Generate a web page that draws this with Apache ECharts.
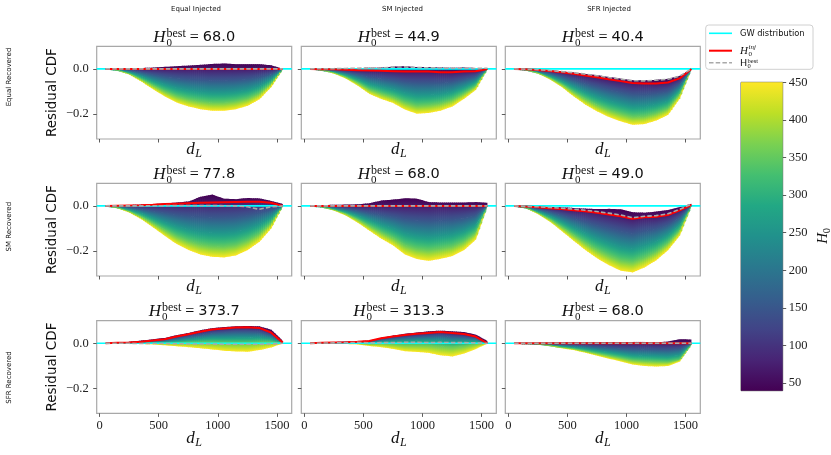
<!DOCTYPE html>
<html>
<head>
<meta charset="utf-8">
<script src="https://cdn.jsdelivr.net/npm/echarts@6/dist/echarts.min.js"></script>
<style>
  html, body { margin: 0; padding: 0; background: #fff; }
  #chart { width: 831px; height: 455px; }
</style>
</head>
<body>
<div id="chart"></div>
<script>
// luminosity distance grid shared by every curve
const dL = [50, 150, 250, 350, 450, 550, 650, 750, 850, 950, 1050, 1150, 1250, 1350, 1450, 1550];
const xTicks = [0, 500, 1000, 1500];
const yTicks = [-0.2, 0.0];
const cbTicks = [50, 100, 150, 200, 250, 300, 350, 400, 450];
const cbMin = 40, cbMax = 450;
// H0 value of each curve (top curve first)
const h0Levels = [40, 68, 150, 250, 350, 450];
const colNames = ['Equal Injected', 'SM Injected', 'SFR Injected'];
const rowNames = ['Equal Recovered', 'SM Recovered', 'SFR Recovered'];
const bestValues = ['68.0', '44.9', '40.4', '77.8', '68.0', '49.0', '373.7', '313.3', '68.0'];

// row 1: Equal recovered
const p11_h40  = [0, 0.001, 0.002, 0.004, 0.006, 0.009, 0.012, 0.015, 0.018, 0.022, 0.024, 0.021, 0.021, 0.021, 0.016, 0];
const p11_h68  = [0, 0, 0, 0, 0, 0, 0, 0, 0, 0, 0, 0, 0, 0, 0, 0];
const p11_h150 = [0, -0.002, -0.007, -0.015, -0.024, -0.033, -0.04, -0.045, -0.048, -0.05, -0.05, -0.048, -0.044, -0.036, -0.022, 0];
const p11_h250 = [0, -0.004, -0.014, -0.031, -0.05, -0.067, -0.082, -0.091, -0.098, -0.102, -0.102, -0.098, -0.09, -0.074, -0.044, 0];
const p11_h350 = [0, -0.006, -0.021, -0.045, -0.072, -0.098, -0.119, -0.133, -0.142, -0.148, -0.148, -0.142, -0.13, -0.107, -0.064, 0];
const p11_h450 = [0, -0.007, -0.026, -0.056, -0.09, -0.122, -0.149, -0.166, -0.178, -0.185, -0.185, -0.178, -0.163, -0.134, -0.08, 0];
const p11_best = p11_h68;

const p12_h40  = [0, 0.001, 0.002, 0.003, 0.004, 0.005, 0.006, 0.01, 0.012, 0.008, 0.008, 0.006, 0.005, 0.006, 0.004, 0.004];
const p12_h68  = [0, -0.001, -0.002, -0.004, -0.006, -0.007, -0.008, -0.01, -0.012, -0.011, -0.012, -0.015, -0.015, -0.012, -0.01, 0];
const p12_h150 = [0, -0.003, -0.007, -0.015, -0.024, -0.035, -0.042, -0.048, -0.057, -0.061, -0.061, -0.061, -0.056, -0.044, -0.032, 0];
const p12_h250 = [0, -0.004, -0.012, -0.025, -0.043, -0.064, -0.077, -0.088, -0.104, -0.114, -0.113, -0.109, -0.098, -0.078, -0.055, 0];
const p12_h350 = [0, -0.006, -0.017, -0.035, -0.06, -0.09, -0.108, -0.123, -0.146, -0.161, -0.158, -0.151, -0.136, -0.108, -0.076, 0];
const p12_h450 = [0, -0.007, -0.021, -0.043, -0.074, -0.111, -0.133, -0.151, -0.18, -0.198, -0.195, -0.185, -0.166, -0.132, -0.092, 0];
const p12_best = [0, 0.001, 0.001, 0.002, 0.003, 0.004, 0.004, 0.008, 0.009, 0.006, 0.005, 0.004, 0.003, 0.003, 0.002, 0.003];

const p13_h40  = [0, -0.001, -0.003, -0.006, -0.011, -0.016, -0.022, -0.028, -0.036, -0.043, -0.05, -0.051, -0.048, -0.044, -0.03, 0];
const p13_h68  = [0, -0.002, -0.005, -0.009, -0.015, -0.021, -0.029, -0.037, -0.046, -0.054, -0.062, -0.064, -0.064, -0.06, -0.042, 0];
const p13_h150 = [0, -0.003, -0.009, -0.019, -0.033, -0.048, -0.064, -0.078, -0.091, -0.102, -0.112, -0.113, -0.108, -0.099, -0.066, 0];
const p13_h250 = [0, -0.004, -0.014, -0.03, -0.051, -0.076, -0.1, -0.12, -0.138, -0.152, -0.164, -0.163, -0.154, -0.139, -0.09, 0];
const p13_h350 = [0, -0.005, -0.018, -0.039, -0.067, -0.101, -0.132, -0.158, -0.18, -0.196, -0.21, -0.208, -0.195, -0.174, -0.112, 0];
const p13_h450 = [0, -0.006, -0.021, -0.047, -0.08, -0.121, -0.158, -0.188, -0.213, -0.232, -0.247, -0.244, -0.228, -0.203, -0.13, 0];
const p13_best = [0, -0.001, -0.003, -0.007, -0.012, -0.017, -0.023, -0.03, -0.038, -0.045, -0.052, -0.053, -0.05, -0.046, -0.032, 0];

// row 2: SM recovered
const p21_h40  = [0, 0.002, 0.004, 0.006, 0.008, 0.011, 0.015, 0.02, 0.04, 0.05, 0.032, 0.03, 0.035, 0.033, 0.022, 0.008];
const p21_h68  = [0, 0.001, 0.002, 0.003, 0.005, 0.008, 0.01, 0.012, 0.014, 0.015, 0.016, 0.017, 0.018, 0.018, 0.014, 0];
const p21_h150 = [0, -0.002, -0.007, -0.014, -0.022, -0.03, -0.038, -0.044, -0.048, -0.05, -0.05, -0.047, -0.04, -0.03, -0.017, 0];
const p21_h250 = [0, -0.005, -0.016, -0.031, -0.05, -0.07, -0.088, -0.102, -0.112, -0.117, -0.118, -0.113, -0.099, -0.079, -0.048, 0];
const p21_h350 = [0, -0.008, -0.024, -0.047, -0.075, -0.105, -0.133, -0.154, -0.169, -0.177, -0.179, -0.172, -0.152, -0.123, -0.076, 0];
const p21_h450 = [0, -0.01, -0.03, -0.059, -0.095, -0.133, -0.169, -0.195, -0.215, -0.225, -0.228, -0.219, -0.195, -0.158, -0.099, 0];
const p21_best = [0, 0, 0, 0, 0.001, 0.001, 0.002, 0.002, 0.002, 0.002, 0.001, 0, -0.004, -0.015, -0.004, 0];

const p22_h40  = [0, 0.004, 0.005, 0.006, 0.007, 0.012, 0.024, 0.028, 0.034, 0.032, 0.017, 0.015, 0.015, 0.015, 0.017, 0.014];
const p22_h68  = [0, 0, 0, 0, 0, 0, 0, 0, 0, 0, 0, 0, 0, 0, 0, 0];
const p22_h150 = [0, -0.002, -0.006, -0.012, -0.02, -0.03, -0.039, -0.047, -0.058, -0.063, -0.066, -0.063, -0.06, -0.053, -0.04, 0];
const p22_h250 = [0, -0.003, -0.012, -0.024, -0.041, -0.06, -0.08, -0.096, -0.118, -0.129, -0.134, -0.129, -0.122, -0.107, -0.081, 0];
const p22_h350 = [0, -0.005, -0.017, -0.034, -0.059, -0.088, -0.116, -0.14, -0.172, -0.188, -0.194, -0.187, -0.178, -0.156, -0.118, 0];
const p22_h450 = [0, -0.006, -0.021, -0.043, -0.074, -0.11, -0.145, -0.175, -0.215, -0.235, -0.243, -0.234, -0.222, -0.195, -0.148, 0];
const p22_best = p22_h68;

const p23_h40  = [0, -0.001, -0.002, -0.004, -0.006, -0.009, -0.012, -0.014, -0.013, -0.015, -0.028, -0.03, -0.025, -0.018, -0.005, 0.01];
const p23_h68  = [0, -0.003, -0.006, -0.01, -0.014, -0.019, -0.024, -0.03, -0.038, -0.046, -0.057, -0.05, -0.048, -0.04, -0.02, 0.004];
const p23_h150 = [0, -0.005, -0.014, -0.026, -0.04, -0.055, -0.07, -0.085, -0.098, -0.111, -0.121, -0.11, -0.1, -0.082, -0.05, 0.003];
const p23_h250 = [0, -0.007, -0.023, -0.043, -0.067, -0.093, -0.118, -0.141, -0.161, -0.179, -0.187, -0.172, -0.154, -0.125, -0.08, 0.002];
const p23_h350 = [0, -0.009, -0.031, -0.058, -0.092, -0.127, -0.161, -0.192, -0.217, -0.239, -0.247, -0.228, -0.202, -0.164, -0.108, 0.001];
const p23_h450 = [0, -0.01, -0.037, -0.07, -0.111, -0.154, -0.195, -0.232, -0.262, -0.287, -0.294, -0.272, -0.24, -0.195, -0.13, 0];
const p23_best = [0, -0.002, -0.004, -0.007, -0.01, -0.014, -0.019, -0.025, -0.032, -0.04, -0.052, -0.046, -0.043, -0.035, -0.015, 0.008];

// row 3: SFR recovered
const p31_h40  = [0, 0.003, 0.007, 0.012, 0.018, 0.024, 0.036, 0.046, 0.058, 0.067, 0.072, 0.075, 0.077, 0.075, 0.06, 0.01];
const p31_h68  = [0, 0.002, 0.004, 0.007, 0.012, 0.018, 0.03, 0.04, 0.051, 0.061, 0.066, 0.07, 0.071, 0.068, 0.048, 0.003];
const p31_h150 = [0, 0.0015, 0.003, 0.005, 0.009, 0.013, 0.022, 0.03, 0.038, 0.046, 0.049, 0.052, 0.052, 0.05, 0.037, 0.003];
const p31_h250 = [0, 0.001, 0.002, 0.003, 0.005, 0.007, 0.012, 0.017, 0.022, 0.026, 0.026, 0.027, 0.027, 0.028, 0.022, 0.002];
const p31_h350 = [0, 0, 0.001, 0.001, 0.002, 0.001, 0.002, 0.004, 0.005, 0.005, 0.003, 0.002, 0.002, 0.005, 0.006, 0.001];
const p31_h450 = [0, -0.001, -0.002, -0.003, -0.005, -0.009, -0.013, -0.017, -0.022, -0.027, -0.033, -0.036, -0.037, -0.03, -0.018, 0];
const p31_best = [0, 0, 0, -0.001, -0.001, -0.001, -0.002, -0.003, -0.003, -0.003, -0.004, -0.004, -0.004, -0.004, -0.003, 0];

const p32_h40  = [0, 0.003, 0.006, 0.008, 0.01, 0.012, 0.025, 0.034, 0.042, 0.048, 0.053, 0.056, 0.053, 0.05, 0.038, 0.01];
const p32_h68  = [0, 0.002, 0.004, 0.005, 0.007, 0.01, 0.022, 0.03, 0.037, 0.042, 0.046, 0.05, 0.046, 0.041, 0.03, 0];
const p32_h150 = [0, 0.0015, 0.003, 0.004, 0.005, 0.007, 0.016, 0.022, 0.026, 0.03, 0.033, 0.035, 0.03, 0.028, 0.022, 0];
const p32_h250 = [0, 0.001, 0.002, 0.002, 0.003, 0.002, 0.008, 0.011, 0.012, 0.014, 0.015, 0.014, 0.01, 0.011, 0.011, 0];
const p32_h350 = [0, 0, 0, 0, 0, -0.003, -0.001, -0.003, -0.006, -0.006, -0.007, -0.012, -0.016, -0.011, -0.003, 0];
const p32_h450 = [0, -0.001, -0.002, -0.003, -0.005, -0.012, -0.017, -0.025, -0.035, -0.038, -0.042, -0.053, -0.058, -0.045, -0.025, 0];
const p32_best = [0, 0.001, 0.002, 0.003, 0.004, 0.002, 0.003, 0.003, 0.004, 0.004, 0.003, 0.004, 0.003, 0.003, 0.002, 0];

const p33_h40  = [0, 0.001, 0.002, 0.003, 0.004, 0.005, 0.004, 0.005, 0.006, 0.005, 0.006, 0.006, 0.004, 0.008, 0.018, 0.017];
const p33_h68  = [0, 0, 0, 0, 0, 0, 0, 0, 0, 0, 0, 0, 0, 0, 0, 0];
const p33_h150 = [0, 0, -0.001, -0.003, -0.006, -0.008, -0.011, -0.015, -0.018, -0.022, -0.025, -0.026, -0.027, -0.028, -0.024, -0.001];
const p33_h250 = [0, -0.001, -0.002, -0.007, -0.012, -0.017, -0.023, -0.03, -0.037, -0.044, -0.051, -0.053, -0.055, -0.057, -0.05, -0.003];
const p33_h350 = [0, -0.001, -0.003, -0.01, -0.018, -0.024, -0.034, -0.044, -0.054, -0.064, -0.074, -0.078, -0.08, -0.082, -0.072, -0.004];
const p33_h450 = [0, -0.001, -0.004, -0.012, -0.022, -0.03, -0.042, -0.055, -0.068, -0.08, -0.094, -0.1, -0.103, -0.1, -0.08, -0.005];
const p33_best = p33_h68;

const panels = [
  { curves: [p11_h40, p11_h68, p11_h150, p11_h250, p11_h350, p11_h450], best: p11_best },
  { curves: [p12_h40, p12_h68, p12_h150, p12_h250, p12_h350, p12_h450], best: p12_best },
  { curves: [p13_h40, p13_h68, p13_h150, p13_h250, p13_h350, p13_h450], best: p13_best },
  { curves: [p21_h40, p21_h68, p21_h150, p21_h250, p21_h350, p21_h450], best: p21_best },
  { curves: [p22_h40, p22_h68, p22_h150, p22_h250, p22_h350, p22_h450], best: p22_best },
  { curves: [p23_h40, p23_h68, p23_h150, p23_h250, p23_h350, p23_h450], best: p23_best },
  { curves: [p31_h40, p31_h68, p31_h150, p31_h250, p31_h350, p31_h450], best: p31_best },
  { curves: [p32_h40, p32_h68, p32_h150, p32_h250, p32_h350, p32_h450], best: p32_best },
  { curves: [p33_h40, p33_h68, p33_h150, p33_h250, p33_h350, p33_h450], best: p33_best }
];

// layout
const colLeft = [96.7, 301.3, 505.3];
const rowTop = [46.3, 183.3, 320.7];
const panelW = 195, panelH = 92.7;
const SERIF = 'Liberation Serif', SANS = 'DejaVu Sans';

// viridis colormap
const viridisStops = ['#440154', '#482475', '#414487', '#355f8d', '#2a788e', '#21918c',
  '#22a884', '#44bf70', '#7ad151', '#bddf26', '#fde725'];
function hexRgb(h) { return [1, 3, 5].map(i => parseInt(h.substr(i, 2), 16)); }
function viridis(t) {
  t = Math.max(0, Math.min(1, t));
  const s = t * 10, i = Math.min(9, Math.floor(s)), f = s - i;
  const a = hexRgb(viridisStops[i]), b = hexRgb(viridisStops[i + 1]);
  return 'rgb(' + a.map((v, m) => Math.round(v + (b[m] - v) * f)).join(',') + ')';
}
function h0Color(h) { return viridis((h - cbMin) / (cbMax - cbMin)); }

function lerpPt(a, b, t) { return [a[0] + (b[0] - a[0]) * t, a[1] + (b[1] - a[1]) * t]; }

// fill between neighbouring curves; each straight step is cut into thin
// strips so the colour ramp follows the local band height. Strips overlap
// a little to the right and downwards so no seams show.
const STRIPS = 6, OV = 0.7;
function bandRenderer(curves) {
  return function (params, api) {
    const k = api.value(0), j = api.value(1);
    const up = curves[k], lo = curves[k + 1];
    const p1 = api.coord([dL[j], up[j]]), p2 = api.coord([dL[j + 1], up[j + 1]]);
    const p4 = api.coord([dL[j], lo[j]]), p3 = api.coord([dL[j + 1], lo[j + 1]]);
    const h0 = h0Levels[k], h1 = h0Levels[k + 1];
    const stops = [0, 0.25, 0.5, 0.75, 1].map(s => ({ offset: s, color: h0Color(h0 + s * (h1 - h0)) }));
    const lastSeg = j === dL.length - 2;
    const lastBand = k === h0Levels.length - 2;
    const children = [];
    for (let s = 0; s < STRIPS; s++) {
      const t0 = s / STRIPS, t1 = (s + 1) / STRIPS;
      const a = lerpPt(p1, p2, t0), b = lerpPt(p1, p2, t1);
      const c = lerpPt(p4, p3, t1), d = lerpPt(p4, p3, t0);
      const yTop = (a[1] + b[1]) / 2, yBot = (c[1] + d[1]) / 2;
      const dx = (lastSeg && s === STRIPS - 1) ? 0 : OV;
      const dy = lastBand ? 0 : OV;
      const pts = [a, [b[0] + dx, b[1]], [c[0] + dx, c[1] + dy], [d[0], d[1] + dy]];
      let fill;
      if (yBot - yTop < 0.8) {
        fill = h0Color((h0 + h1) / 2);
      } else {
        fill = new echarts.graphic.LinearGradient(0, yTop, 0, yBot, stops, true);
      }
      children.push({ type: 'polygon', shape: { points: pts }, style: { fill: fill } });
    }
    return { type: 'group', children: children };
  };
}

const bandItems = [];
for (let k = 0; k < h0Levels.length - 1; k++) {
  for (let j = 0; j < dL.length - 1; j++) bandItems.push([k, j]);
}

const grids = [], xAxes = [], yAxes = [], series = [];
const tickStyle = { color: '#333', width: 0.8 };
const labelFont = { fontFamily: SERIF, fontSize: 12.5, color: '#222' };

panels.forEach((p, i) => {
  const r = Math.floor(i / 3), c = i % 3;
  grids.push({
    left: colLeft[c], top: rowTop[r], width: panelW, height: panelH,
    show: true, borderColor: '#a8a8a8', borderWidth: 1.2, backgroundColor: 'transparent'
  });
  xAxes.push({
    type: 'value', gridIndex: i, min: -25, max: 1625,
    axisLine: { show: false, onZero: false },
    splitLine: { show: false },
    axisTick: { show: true, customValues: xTicks, length: 3.5, lineStyle: tickStyle },
    axisLabel: Object.assign({ show: r === 2, customValues: xTicks, margin: 6, formatter: v => String(v) }, labelFont)
  });
  yAxes.push({
    type: 'value', gridIndex: i, min: -0.31, max: 0.1,
    axisLine: { show: false, onZero: false },
    splitLine: { show: false },
    axisTick: { show: true, customValues: yTicks, length: 3.5, lineStyle: tickStyle },
    axisLabel: Object.assign({
      show: c === 0, customValues: yTicks, margin: 8,
      formatter: v => v.toFixed(1).replace('-', '\u2212')
    }, labelFont)
  });
  series.push({
    type: 'custom', xAxisIndex: i, yAxisIndex: i, z: 1, silent: true,
    data: bandItems, renderItem: bandRenderer(p.curves)
  });
  series.push({
    type: 'line', xAxisIndex: i, yAxisIndex: i, z: 3, silent: true, symbol: 'none',
    data: [[-25, 0], [1625, 0]], lineStyle: { color: '#00ffff', width: 1.6 }
  });
  series.push({
    type: 'line', xAxisIndex: i, yAxisIndex: i, z: 4, silent: true, symbol: 'none',
    data: dL.map((d, j) => [d, p.curves[1][j]]), lineStyle: { color: '#ff0000', width: 2 }
  });
  series.push({
    type: 'line', xAxisIndex: i, yAxisIndex: i, z: 5, silent: true, symbol: 'none',
    data: dL.map((d, j) => [d, p.best[j]]), lineStyle: { color: '#a9a9a9', width: 1.6, type: [4.5, 2.2] }
  });
});

// colorbar
const cbIdx = panels.length;
grids.push({ left: 741, top: 82.3, width: 41.7, height: 308.4, show: true, borderColor: '#333', borderWidth: 0.8 });
xAxes.push({ type: 'value', gridIndex: cbIdx, min: 0, max: 1, show: false });
yAxes.push({
  type: 'value', gridIndex: cbIdx, min: cbMin, max: cbMax, position: 'right',
  axisLine: { show: false, onZero: false }, splitLine: { show: false },
  axisTick: { show: true, customValues: cbTicks, length: 3.5, lineStyle: tickStyle },
  axisLabel: Object.assign({ customValues: cbTicks, margin: 6 }, labelFont)
});
series.push({
  type: 'custom', xAxisIndex: cbIdx, yAxisIndex: cbIdx, silent: true, data: [[0]],
  renderItem: function (params, api) {
    const a = api.coord([0, cbMin]), b = api.coord([1, cbMax]);
    const stops = viridisStops.map((col, n) => ({ offset: n / 10, color: col }));
    return {
      type: 'rect',
      shape: { x: a[0], y: b[1], width: b[0] - a[0], height: a[1] - b[1] },
      style: { fill: new echarts.graphic.LinearGradient(0, 1, 0, 0, stops) }
    };
  }
});

// text helpers
const mctx = document.createElement('canvas').getContext('2d');
function textW(str, size, family, style) {
  mctx.font = (style || 'normal') + ' ' + size + 'px "' + family + '"';
  return mctx.measureText(str).width;
}
function txt(x, y, str, size, family, style, align) {
  return {
    type: 'text', x: x, y: y, silent: true,
    style: {
      text: str, fontSize: size, fontFamily: family, fontStyle: style || 'normal',
      fill: '#111', align: align || 'left', verticalAlign: 'middle'
    }
  };
}

const graphics = [];

function h0Title(cx, top, val) {
  const wH = textW('H', 17, SERIF, 'italic');
  const wS = Math.max(textW('best', 12, SERIF), textW('0', 11, SERIF));
  const wE = textW('=', 16, SERIF);
  const wN = textW(val, 14.5, SANS);
  const total = wH + 1 + wS + 4 + wE + 4 + wN;
  let x = cx - total / 2;
  const cy = top - 9;
  graphics.push(txt(x, cy, 'H', 17, SERIF, 'italic')); x += wH + 1;
  graphics.push(txt(x, cy - 3.5, 'best', 12, SERIF));
  graphics.push(txt(x, cy + 5.5, '0', 11, SERIF)); x += wS + 4;
  graphics.push(txt(x, cy, '=', 16, SERIF)); x += wE + 4;
  graphics.push(txt(x, cy, val, 14.5, SANS));
}

function dLabel(cx, cy) {
  const wd = textW('d', 17, SERIF, 'italic'), wl = textW('L', 12, SERIF, 'italic');
  const x = cx - (wd + 0.5 + wl) / 2;
  graphics.push(txt(x, cy, 'd', 17, SERIF, 'italic'));
  graphics.push(txt(x + wd + 0.5, cy + 4, 'L', 12, SERIF, 'italic'));
}

panels.forEach((p, i) => {
  const r = Math.floor(i / 3), c = i % 3;
  const cx = colLeft[c] + panelW / 2;
  h0Title(cx, rowTop[r], bestValues[i]);
  dLabel(cx, rowTop[r] + panelH + (r === 2 ? 25 : 11));
});

rowTop.forEach((t, r) => {
  graphics.push({
    type: 'text', x: 52, y: t + panelH / 2, rotation: Math.PI / 2, silent: true,
    style: { text: 'Residual CDF', fontSize: 13.5, fontFamily: SANS, fill: '#111', align: 'center', verticalAlign: 'middle' }
  });
});

const colTitleX = [196, 402.5, 609];
colNames.forEach((n, c) => graphics.push(txt(colTitleX[c], 9.3, n, 7, SANS, 'normal', 'center')));

const rowLabelY = [77, 226.7, 377.5];
rowNames.forEach((n, r) => {
  graphics.push({
    type: 'text', x: 9, y: rowLabelY[r], rotation: Math.PI / 2, silent: true,
    style: { text: n, fontSize: 7, fontFamily: SANS, fill: '#111', align: 'center', verticalAlign: 'middle' }
  });
});

// legend box
graphics.push({
  type: 'rect', silent: true, shape: { x: 705.7, y: 25, width: 107.3, height: 44.3, r: 3 },
  style: { fill: 'rgba(255,255,255,0.85)', stroke: '#d0d0d0', lineWidth: 1 }
});
graphics.push({ type: 'line', silent: true, shape: { x1: 709, y1: 33.3, x2: 732, y2: 33.3 }, style: { stroke: '#00ffff', lineWidth: 1.6 } });
graphics.push({ type: 'line', silent: true, shape: { x1: 709, y1: 50.7, x2: 732, y2: 50.7 }, style: { stroke: '#ff0000', lineWidth: 2 } });
graphics.push({ type: 'line', silent: true, shape: { x1: 709, y1: 62.7, x2: 732, y2: 62.7 }, style: { stroke: '#a9a9a9', lineWidth: 1.6, lineDash: [4.5, 2.2] } });
graphics.push(txt(740, 34, 'GW distribution', 8.3, SANS));
graphics.push(txt(740, 51, 'H', 11, SERIF, 'italic'));
graphics.push(txt(748.5, 47, 'inj', 7, SERIF, 'italic'));
graphics.push(txt(748.5, 54, '0', 7, SERIF));
graphics.push(txt(740, 63.5, 'H', 9.5, SANS));
graphics.push(txt(747.5, 60.8, 'best', 6.5, SERIF));
graphics.push(txt(747.5, 66, '0', 6.5, SERIF));

// colorbar label, reads bottom to top
graphics.push({
  type: 'group', x: 823, y: 236.7, rotation: Math.PI / 2, silent: true,
  children: [
    txt(-7, 0, 'H', 15, SERIF, 'italic'),
    txt(3.5, 4, '0', 10.5, SERIF)
  ]
});

const chart = echarts.init(document.getElementById('chart'), null, { renderer: 'canvas' });
chart.setOption({
  animation: false,
  backgroundColor: '#ffffff',
  grid: grids,
  xAxis: xAxes,
  yAxis: yAxes,
  series: series,
  graphic: graphics
});
</script>
</body>
</html>
